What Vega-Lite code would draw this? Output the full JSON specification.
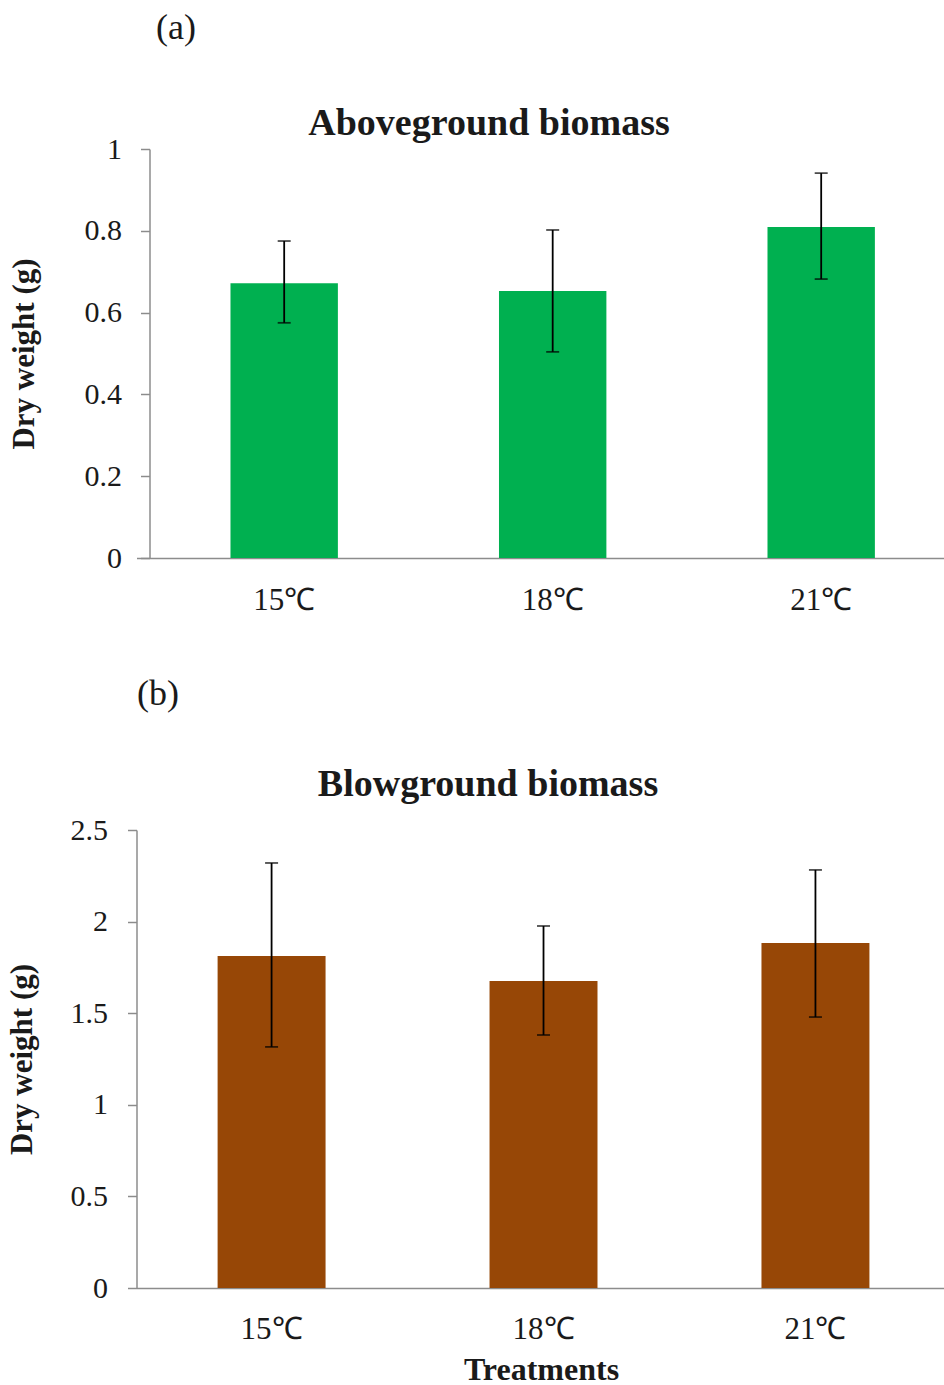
{
  "$schema": "https://vega.github.io/schema/vega-lite/v6.json",
  "padding": {"top": 10, "left": 5.5, "right": 0, "bottom": 0},
  "background": "white",
  "spacing": 61,
  "config": {
    "view": {"stroke": null},
    "font": "Liberation Serif",
    "title": {"font": "Liberation Serif", "color": "#1a1a1a"},
    "axis": {
      "labelFont": "Liberation Serif",
      "titleFont": "Liberation Serif",
      "labelColor": "#1a1a1a",
      "titleColor": "#1a1a1a",
      "domainColor": "#8c8c8c",
      "tickColor": "#8c8c8c",
      "domainWidth": 1.5,
      "tickWidth": 1.5,
      "grid": false
    }
  },
  "datasets": {
    "above": [
      {"treatment": "15℃", "mean": 0.672, "lower": 0.575, "upper": 0.775},
      {"treatment": "18℃", "mean": 0.653, "lower": 0.504, "upper": 0.802},
      {"treatment": "21℃", "mean": 0.809, "lower": 0.682, "upper": 0.941}
    ],
    "below": [
      {"treatment": "15℃", "mean": 1.812, "lower": 1.316, "upper": 2.32},
      {"treatment": "18℃", "mean": 1.676, "lower": 1.381, "upper": 1.976},
      {"treatment": "21℃", "mean": 1.883, "lower": 1.479, "upper": 2.282}
    ]
  },
  "vconcat": [
    {
      "title": {"text": "(a)", "anchor": "start", "fontSize": 36, "fontWeight": "normal", "dx": 148, "offset": 58},
      "vconcat": [
        {
          "title": {"text": "Aboveground biomass", "fontSize": 38, "fontWeight": "bold", "dx": -52, "offset": -9},
          "width": 809,
          "height": 409,
          "data": {"name": "above"},
          "encoding": {
            "x": {
              "field": "treatment", "type": "nominal", "sort": null,
              "scale": {"paddingInner": 0.6, "paddingOuter": 0.3065, "align": 0.571},
              "axis": {"title": null, "labelAngle": 0, "ticks": false, "labelFontSize": 31, "labelPadding": 27}
            }
          },
          "layer": [
            {
              "mark": {"type": "bar", "color": "#00B050"},
              "encoding": {
                "y": {
                  "field": "mean", "type": "quantitative", "title": "Dry weight (g)",
                  "scale": {"domain": [0, 1], "nice": false},
                  "axis": {"offset": -13, "titleFontSize": 31, "titleFontWeight": "bold", "titlePadding": 44, "labelFontSize": 30, "tickSize": 9, "labelPadding": 19, "format": "~g", "values": [0, 0.2, 0.4, 0.6, 0.8, 1]}
                }
              }
            },
            {
              "mark": {"type": "errorbar", "ticks": {"size": 13, "thickness": 1.8, "color": "#000000"}, "rule": {"strokeWidth": 1.8, "color": "#000000"}},
              "encoding": {
                "y": {"field": "lower", "type": "quantitative", "title": "Dry weight (g)", "scale": {"domain": [0, 1], "nice": false}},
                "y2": {"field": "upper"}
              }
            }
          ]
        }
      ]
    },
    {
      "title": {"text": "(b)", "anchor": "start", "fontSize": 36, "fontWeight": "normal", "dx": 131, "offset": 53},
      "vconcat": [
        {
          "title": {"text": "Blowground biomass", "fontSize": 38, "fontWeight": "bold", "dx": -53, "offset": 11},
          "width": 809,
          "height": 458,
          "data": {"name": "below"},
          "encoding": {
            "x": {
              "field": "treatment", "type": "nominal", "sort": null,
              "scale": {"paddingInner": 0.603, "paddingOuter": 0.289, "align": 0.516},
              "axis": {"title": "Treatments", "titleFontSize": 32, "titleFontWeight": "bold", "titlePadding": 10, "labelAngle": 0, "ticks": false, "labelFontSize": 31, "labelPadding": 26}
            }
          },
          "layer": [
            {
              "mark": {"type": "bar", "color": "#974706"},
              "encoding": {
                "y": {
                  "field": "mean", "type": "quantitative", "title": "Dry weight (g)",
                  "scale": {"domain": [0, 2.5], "nice": false},
                  "axis": {"titleFontSize": 31, "titleFontWeight": "bold", "titlePadding": 32, "labelFontSize": 30, "tickSize": 9, "labelPadding": 20, "format": "~g", "values": [0, 0.5, 1, 1.5, 2, 2.5]}
                }
              }
            },
            {
              "mark": {"type": "errorbar", "ticks": {"size": 13, "thickness": 1.8, "color": "#000000"}, "rule": {"strokeWidth": 1.8, "color": "#000000"}},
              "encoding": {
                "y": {"field": "lower", "type": "quantitative", "title": "Dry weight (g)", "scale": {"domain": [0, 2.5], "nice": false}},
                "y2": {"field": "upper"}
              }
            }
          ]
        }
      ]
    }
  ]
}
